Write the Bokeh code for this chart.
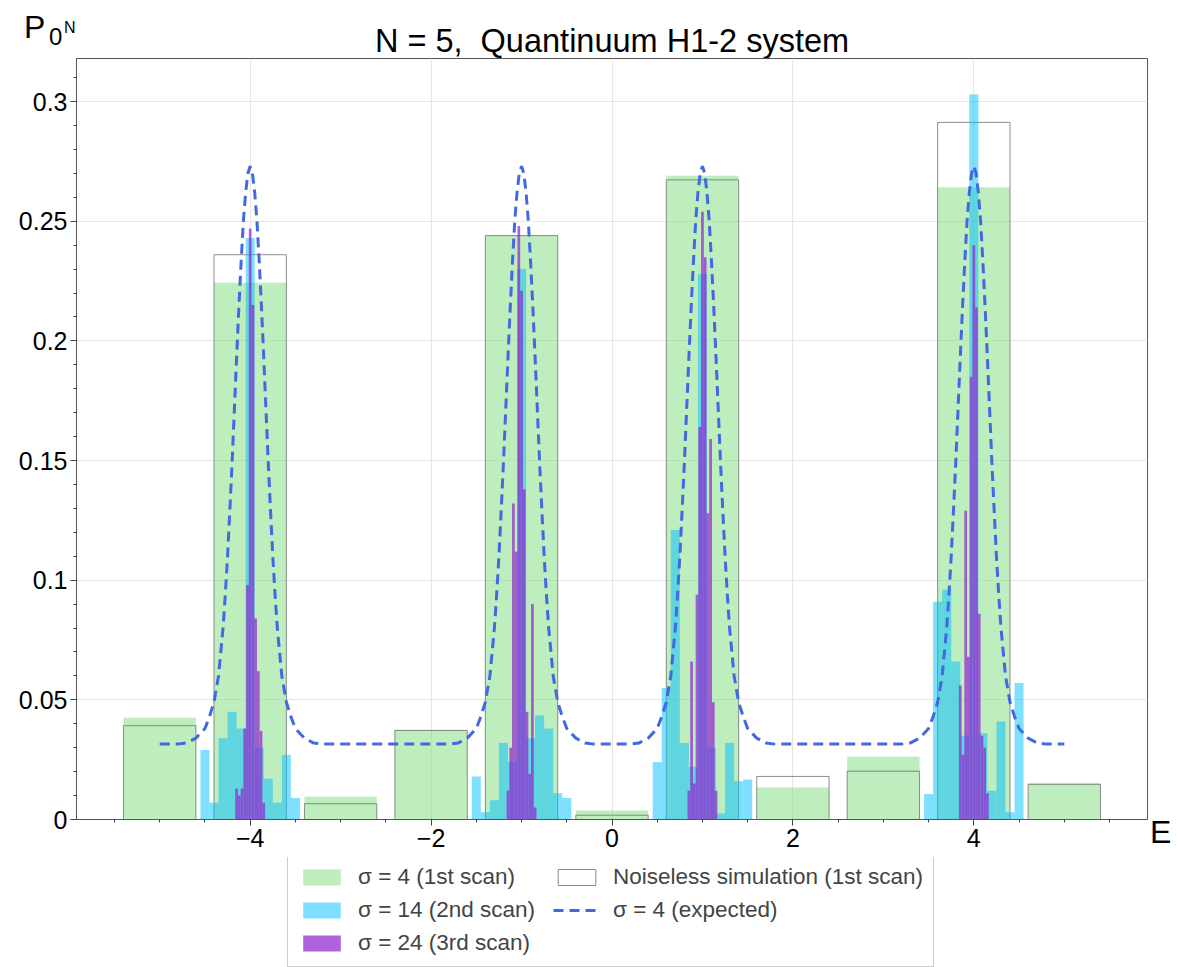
from bokeh.plotting import figure
from bokeh.models import (ColumnDataSource, Legend, LegendItem, FixedTicker, Range1d, Div)
from bokeh.layouts import column, row
from bokeh.embed import file_html
from bokeh.resources import INLINE

FONT = "Liberation Sans"

# ---- 1st scan (sigma = 4): one bar per integer energy ----
scan1_E = [-5, -4, -3, -2, -1, 0, 1, 2, 3, 4, 5]
scan1_P = [0.0425, 0.2243, 0.0095, 0.0375, 0.2440, 0.0038, 0.2690, 0.0134, 0.0262, 0.2642, 0.0152]
noiseless_P = [0.0392, 0.2360, 0.0066, 0.0372, 0.2440, 0.0018, 0.2673, 0.0180, 0.0202, 0.2913, 0.0147]

# ---- 2nd scan (sigma = 14): around the four peaks ----
scan2_E = [-4.5, -4.4, -4.3, -4.2, -4.1, -4.0, -3.9, -3.8, -3.7, -3.6, -3.5,
           -1.5, -1.4, -1.3, -1.2, -1.1, -1.0, -0.9, -0.8, -0.7, -0.6, -0.5,
           0.5, 0.6, 0.7, 0.8, 0.9, 1.0, 1.1, 1.2, 1.3, 1.4, 1.5,
           3.5, 3.6, 3.7, 3.8, 3.9, 4.0, 4.1, 4.2, 4.3, 4.4, 4.5]
scan2_P = [0.029, 0.007, 0.034, 0.045, 0.038, 0.243, 0.030, 0.017, 0.007, 0.027, 0.009,
           0.018, 0.003, 0.008, 0.032, 0.024, 0.230, 0.034, 0.0435, 0.038, 0.011, 0.009,
           0.024, 0.055, 0.121, 0.032, 0.022, 0.228, 0.030, 0.0025, 0.032, 0.016, 0.0167,
           0.0107, 0.091, 0.096, 0.066, 0.035, 0.303, 0.036, 0.012, 0.041, 0.003, 0.057]

# ---- 3rd scan (sigma = 24): finer bins around the peaks ----
scan3_E = [-4.15, -4.12, -4.09, -4.06, -4.03, -4.0, -3.97, -3.94, -3.91, -3.88, -3.85,
           -1.15, -1.12, -1.09, -1.06, -1.03, -1.0, -0.97, -0.94, -0.91, -0.88, -0.85,
           0.85, 0.88, 0.91, 0.94, 0.97, 1.0, 1.03, 1.06, 1.09, 1.12, 1.15,
           3.85, 3.88, 3.91, 3.94, 3.97, 4.0, 4.03, 4.06, 4.09, 4.12, 4.15]
scan3_P = [0.013, 0.010, 0.013, 0.038, 0.098, 0.247, 0.215, 0.084, 0.062, 0.037, 0.007,
           0.012, 0.030, 0.132, 0.112, 0.248, 0.221, 0.138, 0.045, 0.019, 0.090, 0.005,
           0.012, 0.066, 0.015, 0.094, 0.164, 0.254, 0.235, 0.128, 0.159, 0.049, 0.012,
           0.056, 0.027, 0.129, 0.068, 0.185, 0.240, 0.214, 0.086, 0.035, 0.030, 0.011]

# ---- expected curve (sigma = 4) ----
expected_E = [-5.0,
    -4.8, -4.7, -4.6, -4.5, -4.45, -4.4, -4.35, -4.3, -4.275, -4.25, -4.225, -4.2, -4.175, -4.15, -4.125, -4.1, -4.075, -4.05, -4.025,
    -4.0,
    -3.975, -3.95, -3.925, -3.9, -3.875, -3.85, -3.825, -3.8, -3.775, -3.75, -3.725, -3.7, -3.65, -3.6, -3.55, -3.5, -3.4, -3.3, -3.2,
    -1.8, -1.7, -1.6, -1.5, -1.45, -1.4, -1.35, -1.3, -1.275, -1.25, -1.225, -1.2, -1.175, -1.15, -1.125, -1.1, -1.075, -1.05, -1.025,
    -1.0,
    -0.975, -0.95, -0.925, -0.9, -0.875, -0.85, -0.825, -0.8, -0.775, -0.75, -0.725, -0.7, -0.65, -0.6, -0.55, -0.5, -0.4, -0.3, -0.2,
    0.2, 0.3, 0.4, 0.5, 0.55, 0.6, 0.65, 0.7, 0.725, 0.75, 0.775, 0.8, 0.825, 0.85, 0.875, 0.9, 0.925, 0.95, 0.975,
    1.0,
    1.025, 1.05, 1.075, 1.1, 1.125, 1.15, 1.175, 1.2, 1.225, 1.25, 1.275, 1.3, 1.35, 1.4, 1.45, 1.5, 1.6, 1.7, 1.8,
    3.2, 3.3, 3.4, 3.5, 3.55, 3.6, 3.65, 3.7, 3.725, 3.75, 3.775, 3.8, 3.825, 3.85, 3.875, 3.9, 3.925, 3.95, 3.975,
    4.0,
    4.025, 4.05, 4.075, 4.1, 4.125, 4.15, 4.175, 4.2, 4.225, 4.25, 4.275, 4.3, 4.35, 4.4, 4.45, 4.5, 4.6, 4.7, 4.8,
    5.0]
expected_P = [0.0315,
    0.0315, 0.032, 0.034, 0.038, 0.043, 0.049, 0.060, 0.080, 0.094, 0.110, 0.129, 0.149, 0.171, 0.193, 0.214, 0.233, 0.250, 0.262, 0.270,
    0.273,
    0.270, 0.262, 0.250, 0.233, 0.214, 0.193, 0.171, 0.149, 0.129, 0.110, 0.094, 0.080, 0.060, 0.049, 0.043, 0.038, 0.034, 0.032, 0.0315,
    0.0315, 0.032, 0.034, 0.038, 0.043, 0.049, 0.060, 0.080, 0.094, 0.110, 0.129, 0.149, 0.171, 0.193, 0.214, 0.233, 0.250, 0.262, 0.270,
    0.273,
    0.270, 0.262, 0.250, 0.233, 0.214, 0.193, 0.171, 0.149, 0.129, 0.110, 0.094, 0.080, 0.060, 0.049, 0.043, 0.038, 0.034, 0.032, 0.0315,
    0.0315, 0.032, 0.034, 0.038, 0.043, 0.049, 0.060, 0.080, 0.094, 0.110, 0.129, 0.149, 0.171, 0.193, 0.214, 0.233, 0.250, 0.262, 0.270,
    0.273,
    0.270, 0.262, 0.250, 0.233, 0.214, 0.193, 0.171, 0.149, 0.129, 0.110, 0.094, 0.080, 0.060, 0.049, 0.043, 0.038, 0.034, 0.032, 0.0315,
    0.0315, 0.032, 0.034, 0.038, 0.043, 0.049, 0.060, 0.080, 0.094, 0.110, 0.129, 0.149, 0.171, 0.193, 0.214, 0.233, 0.250, 0.262, 0.270,
    0.273,
    0.270, 0.262, 0.250, 0.233, 0.214, 0.193, 0.171, 0.149, 0.129, 0.110, 0.094, 0.080, 0.060, 0.049, 0.043, 0.038, 0.034, 0.032, 0.0315,
    0.0315]

x_major = [-4, -2, 0, 2, 4]
x_labels = {-4: "\u22124", -2: "\u22122", 0: "0", 2: "2", 4: "4"}
y_major = [0, 0.05, 0.1, 0.15, 0.2, 0.25, 0.3]
y_labels = {0: "0", 0.05: "0.05", 0.1: "0.1", 0.15: "0.15", 0.2: "0.2", 0.25: "0.25", 0.3: "0.3"}

title_text = "N = 5,  Quantinuum H1-2 system"
legend_labels = ["\u03c3 = 4 (1st scan)", "\u03c3 = 14 (2nd scan)", "\u03c3 = 24 (3rd scan)",
                 "Noiseless simulation (1st scan)", "\u03c3 = 4 (expected)"]

GREEN = dict(fill_color="#7ddc7d", fill_alpha=0.5, line_color=None)
NOISELESS = dict(fill_color=None, line_color="#707070", line_alpha=0.8, line_width=1)
BLUE = dict(fill_color="#00bfff", fill_alpha=0.5, line_color=None)
PURPLE = dict(fill_color="#9226cf", fill_alpha=0.72, line_color=None)
DASHED = dict(line_color="#4169e1", line_width=3, line_dash="10 6")


def span(left, baseline, size, text, extra=""):
    # line-height 1: baseline sits ~0.8465 em below the box top for Liberation Sans
    top = baseline - 0.8465 * size
    return (f'<span style="position:absolute;left:{left}px;top:{top:.1f}px;'
            f'font-size:{size}px;{extra}">{text}</span>')


def text_div(w, h, spans):
    html = (f'<div style="position:relative;width:{w}px;height:{h}px;overflow:visible;'
            f"font-family:'{FONT}',sans-serif;color:black;line-height:1;\">" + "".join(spans) + "</div>")
    return Div(text=html, width=w, height=h, margin=(0, 0, 0, 0))


# ---------------- header: y label and title ----------------
header = text_div(1149, 58, [
    span(24, 38, 32, "P"),
    span(49, 45, 24, "0"),
    span(64, 33, 16, "N"),
    span(612, 52, 32.5, title_text, "transform:translateX(-50%);white-space:pre;"),
])

# ---------------- main plot ----------------
p = figure(width=1149, height=799, output_backend="svg", toolbar_location=None,
           x_range=Range1d(-5.92, 5.92), y_range=Range1d(0, 0.318), title=None,
           min_border_left=76, min_border_right=2, min_border_top=0, min_border_bottom=38)
p.background_fill_color = "white"
p.border_fill_color = "white"
p.outline_line_color = "#555555"
p.outline_line_width = 1

s1 = ColumnDataSource(dict(E=scan1_E, P=scan1_P, N=noiseless_P))
s2 = ColumnDataSource(dict(E=scan2_E, P=scan2_P))
s3 = ColumnDataSource(dict(E=scan3_E, P=scan3_P))
se = ColumnDataSource(dict(E=expected_E, P=expected_P))

p.vbar(x="E", top="P", width=0.8, source=s1, **GREEN)
p.vbar(x="E", top="N", width=0.8, source=s1, **NOISELESS)
p.vbar(x="E", top="P", width=0.1, source=s2, **BLUE)
p.vbar(x="E", top="P", width=0.03, source=s3, **PURPLE)
p.line(x="E", y="P", source=se, **DASHED)

for ax in (p.xaxis[0], p.yaxis[0]):
    ax.axis_line_color = "#555555"
    ax.major_tick_line_color = "#444444"
    ax.minor_tick_line_color = "#444444"
    ax.major_tick_out = 6
    ax.major_tick_in = 0
    ax.minor_tick_out = 3
    ax.minor_tick_in = 0
    ax.major_label_text_font = FONT
    ax.major_label_text_font_size = "25px"
    ax.major_label_text_color = "black"
    ax.major_label_standoff = 3

p.xaxis.ticker = FixedTicker(ticks=x_major, minor_ticks=[-5.5 + 0.5 * i for i in range(23)])
p.xaxis.major_label_overrides = x_labels
p.yaxis.ticker = FixedTicker(ticks=y_major, minor_ticks=[0.01 * i for i in range(32)])
p.yaxis.major_label_overrides = y_labels

p.xgrid.grid_line_color = "#e6e6e6"
p.ygrid.grid_line_color = "#e6e6e6"

# ---------------- legend strip (swatch renderers use the same sources, outside its view) ----------------
leg = figure(width=1149, height=110, output_backend="svg", toolbar_location=None, title=None,
             x_range=Range1d(100, 200), y_range=Range1d(100, 200), min_border=0,
             x_axis_location=None, y_axis_location=None)
leg.outline_line_color = None
leg.background_fill_color = "white"
leg.border_fill_color = "white"
leg.grid.visible = False
g1 = leg.vbar(x="E", top="P", width=0.8, source=s1, **GREEN)
g2 = leg.vbar(x="E", top="P", width=0.1, source=s2, **BLUE)
g3 = leg.vbar(x="E", top="P", width=0.03, source=s3, **PURPLE)
g4 = leg.vbar(x="E", top="N", width=0.8, source=s1, **NOISELESS)
g5 = leg.line(x="E", y="P", source=se, **DASHED)
legend = Legend(items=[
    LegendItem(label=legend_labels[0], renderers=[g1]),
    LegendItem(label=legend_labels[1], renderers=[g2]),
    LegendItem(label=legend_labels[2], renderers=[g3]),
    LegendItem(label=legend_labels[3], renderers=[g4]),
    LegendItem(label=legend_labels[4], renderers=[g5]),
], location=(211, 0), nrows=3, orientation="vertical")
legend.label_text_font = FONT
legend.label_text_font_size = "22.5px"
legend.glyph_width = 47
legend.glyph_height = 20
legend.label_height = 26
legend.label_width = 188
legend.spacing = 7
legend.padding = 10
legend.margin = 0
legend.label_standoff = 13
legend.border_line_color = "#999999"
legend.border_line_width = 1
legend.background_fill_color = "white"
legend.background_fill_alpha = 1
leg.add_layout(legend, "center")

# ---------------- side: x label ----------------
side = text_div(28, 967, [span(1, 843, 32, "E")])

layout = row(column(header, p, leg), side)
open("out.html", "w").write(file_html(layout, INLINE))
